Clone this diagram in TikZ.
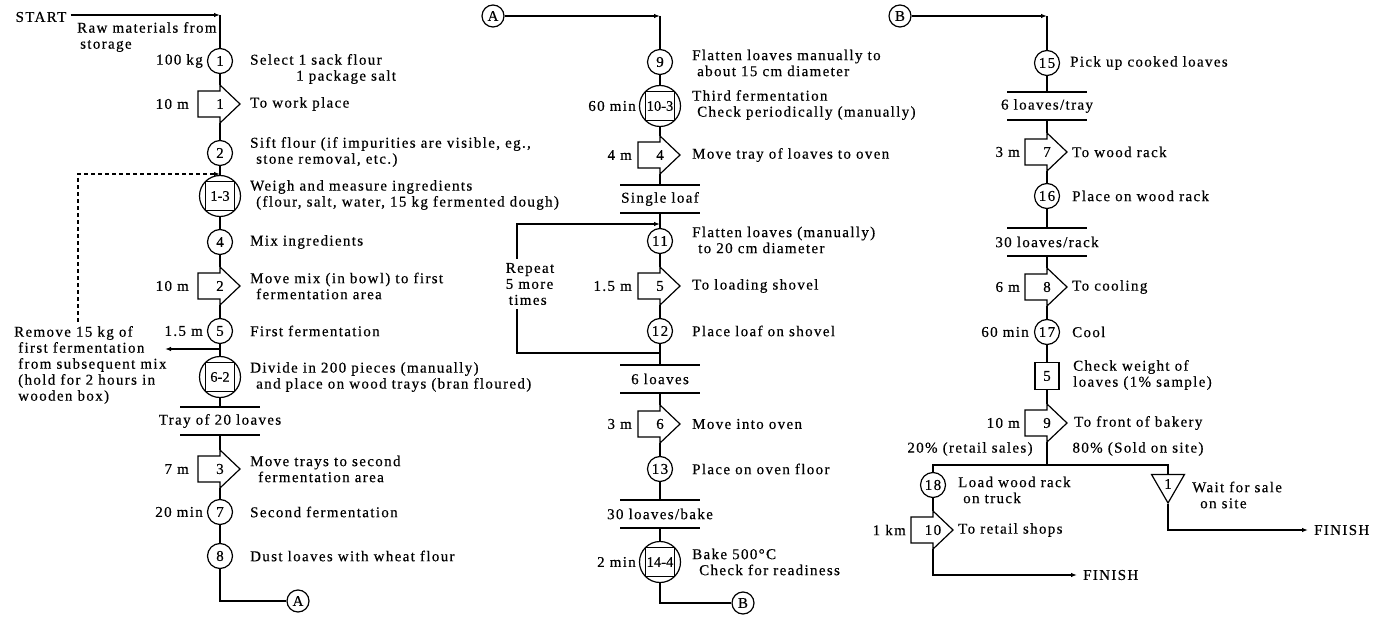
\documentclass[tikz,border=0pt]{standalone}
\usepackage{fontspec}
\setmainfont{Liberation Serif}[LetterSpace=9, FakeBold=0.4]
\newfontfamily\symfont{Liberation Serif}[Ligatures=TeX, FakeBold=0.4]
\usetikzlibrary{arrows.meta,shapes.geometric}
\begin{document}
\begin{tikzpicture}[x=1pt,y=-1pt,
  every node/.style={font=\fontsize{15}{16}\selectfont, inner sep=0pt},
  line/.style={line width=1.2pt},
  arr/.style={line, -{Latex[length=6pt,width=4.5pt]}},
  op/.style={circle, draw, line width=1.2pt, minimum size=25pt},
  conn/.style={circle, draw, line width=1.2pt, minimum size=22pt},
  comb/.style={circle, draw, line width=1.2pt, minimum size=41pt,
    font=\symfont\fontsize{14.5}{15}\selectfont,
    path picture={\draw[line width=1.2pt] ([shift={(-14.5,-14.5)}]path picture bounding box.center) rectangle ++(29,29);}},
  insp/.style={rectangle, draw, line width=1.2pt, minimum width=24pt, minimum height=27pt},
  stor/.style={regular polygon, regular polygon sides=3, shape border rotate=180,
    draw, line width=1.2pt, minimum size=38pt},
  transp/.style={minimum width=44pt, minimum height=38pt},
  batch/.style={minimum height=28pt},
  desc/.style={anchor=west, align=left},
  qty/.style={anchor=east},
  fin/.style={anchor=west, inner xsep=6pt},
]
\path[use as bounding box, fill=white] (0,0) rectangle (1383,617);

% ---------------- first column ----------------
\node (start) [inner xsep=4pt] at (41,17) {START};
\coordinate (k1) at (220,15);
\node (raw) [desc] at (77,37) {Raw materials from\\\hspace*{3pt}storage};

\node (c1) [op] at (220,61) {1};
\node (q1) [qty] at (203,61) {100 kg};
\node (d1) [desc] at (250,69) {Select 1 sack flour\\\hspace*{46pt}1 package salt};

\node (t1) [transp] at (220,104) {1};
\node (q2) [qty] at (189,104) {10 m};
\node (d2) [desc] at (250,104) {To work place};

\node (c2) [op] at (220,153) {2};
\node (d3) [desc] at (250,152) {Sift flour (if impurities are visible, eg.,\\\hspace*{6pt}stone removal, etc.)};

\coordinate (dk0) at (78,322);
\coordinate (dk1) at (78,174);
\coordinate (dk2) at (220,174);

\node (m3) [comb] at (220,196) {1-3};
\node (d4) [desc] at (250,195) {Weigh and measure ingredients\\\hspace*{6pt}(flour, salt, water, 15 kg fermented dough)};

\node (c4) [op] at (220,242) {4};
\node (d5) [desc] at (250,242) {Mix ingredients};

\node (t2) [transp] at (220,286) {2};
\node (q3) [qty] at (189,286) {10 m};
\node (d6) [desc] at (250,286) {Move mix (in bowl) to first\\\hspace*{6pt}fermentation area};

\node (c5) [op] at (220,331) {5};
\node (q4) [qty] at (203,331) {1.5 m};
\node (d7) [desc] at (250,331) {First fermentation};

\coordinate (rem0) at (220,349);
\coordinate (remtip) at (165,349);
\node (rem) [desc] at (14,365) {Remove 15 kg of\\\hspace*{4pt}first fermentation\\\hspace*{4pt}from subsequent mix\\\hspace*{4pt}(hold for 2 hours in\\\hspace*{4pt}wooden box)};

\node (m6) [comb] at (220,377) {6-2};
\node (d8) [desc] at (250,377) {Divide in 200 pieces (manually)\\\hspace*{6pt}and place on wood trays (bran floured)};

\node (b1) [batch] at (220,421) {Tray of 20 loaves};

\node (t3) [transp] at (220,469) {3};
\node (q5) [qty] at (189,469) {7 m};
\node (d9) [desc] at (250,469) {Move trays to second\\\hspace*{8pt}fermentation area};

\node (c7) [op] at (220,512) {7};
\node (q6) [qty] at (203,512) {20 min};
\node (d10) [desc] at (250,512) {Second fermentation};

\node (c8) [op] at (220,556) {8};
\node (d11) [desc] at (250,556) {Dust loaves with wheat flour};

\node (A1) [conn] at (298,601) {A};

% ---------------- second column ----------------
\node (A2) [conn] at (493,16) {A};
\coordinate (k2) at (660,16);

\node (c9) [op] at (660,62) {9};
\node (d12) [desc] at (692,63) {Flatten loaves manually to\\\hspace*{5pt}about 15 cm diameter};

\node (m10) [comb] at (660,106) {10-3};
\node (q7) [qty] at (636,106) {60 min};
\node (d13) [desc] at (692,105) {Third fermentation\\\hspace*{5pt}Check periodically (manually)};

\node (t4) [transp] at (660,155) {4};
\node (q8) [qty] at (632,155) {4 m};
\node (d14) [desc] at (692,155) {Move tray of loaves to oven};

\node (b2) [batch] at (660,199) {Single loaf};

\coordinate (lpa) at (660,224);
\coordinate (lp1) at (517,224);
\coordinate (lp2) at (517,353);
\coordinate (lpb) at (660,353);
\node (rep) [align=left, inner ysep=4pt] at (530,284) {Repeat\\5 more\\\hspace*{3pt}times};

\node (c11) [op] at (660,241) {11};
\node (d15) [desc] at (692,240) {Flatten loaves (manually)\\\hspace*{6pt}to 20 cm diameter};

\node (t5) [transp] at (660,286) {5};
\node (q9) [qty] at (632,286) {1.5 m};
\node (d16) [desc] at (692,286) {To loading shovel};

\node (c12) [op] at (660,331) {12};
\node (d17) [desc] at (692,331) {Place loaf on shovel};

\node (b3) [batch] at (660,379) {6 loaves};

\node (t6) [transp] at (660,424) {6};
\node (q10) [qty] at (632,424) {3 m};
\node (d18) [desc] at (692,424) {Move into oven};

\node (c13) [op] at (660,469) {13};
\node (d19) [desc] at (692,469) {Place on oven floor};

\node (b4) [batch] at (660,514) {30 loaves/bake};

\node (m14) [comb] at (660,562) {14-4};
\node (q11) [qty] at (636,562) {2 min};
\node (d20) [desc] at (692,562) {Bake 500°C\\\hspace*{7pt}Check for readiness};

\node (B1) [conn] at (743,603) {B};

% ---------------- third column ----------------
\node (B2) [conn] at (900,16) {B};
\coordinate (k3) at (1047,16);

\node (c15) [op] at (1047,63) {15};
\node (d21) [desc] at (1070,63) {Pick up cooked loaves};

\node (b5) [batch] at (1047,106) {6 loaves/tray};

\node (t7) [transp] at (1047,152) {7};
\node (q12) [qty] at (1020,152) {3 m};
\node (d22) [desc] at (1072,152) {To wood rack};

\node (c16) [op] at (1047,196) {16};
\node (d23) [desc] at (1072,196) {Place on wood rack};

\node (b6) [batch] at (1047,242) {30 loaves/rack};

\node (t8) [transp] at (1047,287) {8};
\node (q13) [qty] at (1020,287) {6 m};
\node (d24) [desc] at (1072,287) {To cooling};

\node (c17) [op] at (1047,332) {17};
\node (q14) [qty] at (1029,332) {60 min};
\node (d25) [desc] at (1072,332) {Cool};

\node (i5) [insp] at (1047,376) {5};
\node (d26) [desc] at (1073,375) {Check weight of\\loaves (1\% sample)};

\node (t9) [transp] at (1047,423) {9};
\node (q15) [qty] at (1020,423) {10 m};
\node (d27) [desc] at (1074,423) {To front of bakery};

\node (s1) at (970,449) {20\% (retail sales)};
\node (s2) at (1138,449) {80\% (Sold on site)};
\coordinate (jn) at (1047,465);

\node (c18) [op] at (933,485) {18};
\node (d28) [desc] at (958,490) {Load wood rack\\\hspace*{5pt}on truck};

\node (t10) [transp] at (933,530) {10};
\node (q16) [qty] at (906,530) {1 km};
\node (d29) [desc] at (958,530) {To retail shops};
\node (fin1) [fin] at (1077,575) {FINISH};

\node (tri) [stor] at (1168,484) {1};
\node (d30) [desc] at (1192,495) {Wait for sale\\\hspace*{8pt}on site};
\node (fin2) [fin] at (1308,530) {FINISH};

% ---------------- transport and batch symbols ----------------
\foreach \n in {t1,t2,t3,t4,t5,t6,t7,t8,t9,t10}
  \draw[line, line join=miter] (\n.center) ++(-22,-13) -- ++(22,0) -- ++(0,-6)
    -- ++(20,19) -- ++(-20,19) -- ++(0,-6) -- ++(-22,0) -- cycle;
\foreach \n in {b1,b2,b3,b4,b5,b6}
  \draw[line] ([shift={(-40,-14)}]\n.center) -- ++(80,0)
              ([shift={(-40,14)}]\n.center) -- ++(80,0);

% ---------------- connectors ----------------
\draw[arr] (start.east |- k1) -- (k1);
\foreach \u/\v in {k1/c1, c1/t1, t1/c2, c2/m3, m3/c4, c4/t2, t2/c5, c5/m6,
                   m6/b1, b1/t3, t3/c7, c7/c8}
  \draw[line] (\u) -- (\v);
\draw[line] (c8) |- (A1);
\draw[line, dash pattern=on 4pt off 3pt, -{Latex[length=6pt,width=4.5pt]}]
  (dk0) -- (dk1) -- (dk2);
\draw[arr] (rem0) -- (remtip);

\draw[arr] (A2) -- (k2);
\foreach \u/\v in {k2/c9, c9/m10, m10/t4, t4/b2, b2/c11, c11/t5, t5/c12,
                   c12/b3, b3/t6, t6/c13, c13/b4, b4/m14}
  \draw[line] (\u) -- (\v);
\draw[line] (m14) |- (B1);
\draw[line] (lpb) -- (lp2) -- (rep.south -| lp2);
\draw[arr] (rep.north -| lp2) -- (lp1) -- (lpa);

\draw[arr] (B2) -- (k3);
\foreach \u/\v in {k3/c15, c15/b5, b5/t7, t7/c16, c16/b6, b6/t8, t8/c17,
                   c17/i5, i5/t9, t9/jn}
  \draw[line] (\u) -- (\v);
\draw[line] (jn) -| (c18);
\draw[line] (jn) -| (tri);
\draw[line] (c18) -- (t10);
\draw[arr] (t10) |- (fin1);
\draw[arr] (tri) |- (fin2);
\end{tikzpicture}
\end{document}
